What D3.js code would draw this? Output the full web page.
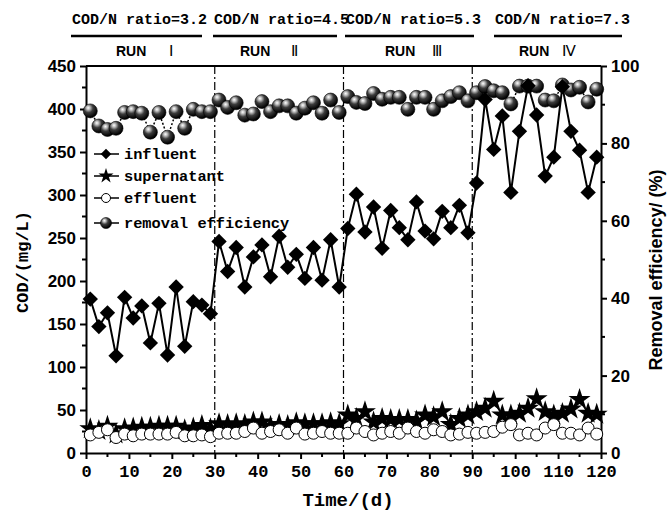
<!DOCTYPE html>
<html>
<head>
<meta charset="utf-8">
<script src="https://cdn.jsdelivr.net/npm/d3@7"></script>
<style>
  html, body { margin: 0; padding: 0; background: #fff; }
  svg { display: block; }
</style>
</head>
<body>
<svg id="chart" width="670" height="516"></svg>
<script>
// Sampling days (every other day over the 120-day operation)
const days = [1,3,5,7,9,11,13,15,17,19,21,23,25,27,29,
              31,33,35,37,39,41,43,45,47,49,51,53,55,57,59,
              61,63,65,67,69,71,73,75,77,79,81,83,85,87,89,
              91,93,95,97,99,101,103,105,107,109,111,113,115,117,119];

// COD concentrations, mg/L
const influent = [179,147,163,113,181,157,171,128,174,114,193,124,176,172,162,
                  246,211,239,193,228,242,205,252,216,231,203,239,201,248,193,
                  261,301,257,286,238,282,262,248,292,258,249,281,262,288,256,
                  314,411,353,392,303,374,427,393,322,344,426,374,352,303,344];
const supernatant = [28,26,31,22,28,29,30,30,31,31,31,27,29,32,28,
                     34,33,34,33,36,36,31,33,32,35,34,34,34,35,34,
                     44,40,48,36,40,39,39,39,37,44,42,48,33,40,44,
                     48,52,60,44,44,46,52,63,48,44,46,51,62,46,45];
const effluent = [21,24,27,18,22,20,22,22,22,22,24,20,20,21,19,
                  23,23,23,25,29,23,25,27,23,29,22,23,25,23,23,
                  23,29,25,21,23,25,23,29,25,23,27,25,21,22,24,
                  23,24,25,30,33,21,23,21,29,33,23,23,21,29,22];
// COD removal efficiency, %
const removal = [88.4,84.5,83.6,83.9,88.0,88.2,87.8,82.9,88.0,81.6,88.2,83.9,88.8,88.2,88.2,
                 91.2,89.3,90.5,87.3,87.6,90.8,88.2,89.7,89.7,87.8,89.1,90.5,87.8,91.2,88.0,
                 92.1,90.6,90.3,92.9,91.4,91.9,91.9,88.8,91.9,91.9,88.8,91.0,92.1,93.1,91.0,
                 93.1,94.7,93.6,93.1,90.2,94.8,94.8,94.8,91.2,91.0,95.1,93.8,94.5,90.7,94.0];

// Operating phases
const phaseBounds = [30, 60, 90];
const phaseRatios = ["COD/N ratio=3.2", "COD/N ratio=4.5", "COD/N ratio=5.3", "COD/N ratio=7.3"];
const phaseRuns = ["Ⅰ", "Ⅱ", "Ⅲ", "Ⅳ"];
const xTicks = [0,10,20,30,40,50,60,70,80,90,100,110,120];
const yTicks = [0,50,100,150,200,250,300,350,400,450];
const y2Ticks = [0,20,40,60,80,100];

const M = {left: 86, right: 601, top: 66, bottom: 453};
const svg = d3.select("#chart");

const x = d3.scaleLinear().domain([0,120]).range([M.left, M.right]);
const y = d3.scaleLinear().domain([0,450]).range([M.bottom, M.top]);
const y2 = d3.scaleLinear().domain([0,100]).range([M.bottom, M.top]);

const MONO = "'Liberation Mono', 'DejaVu Sans Mono', monospace";
const SANS = "'Liberation Sans', Arial, sans-serif";

// sphere shading for the efficiency markers
const defs = svg.append("defs");
const grad = defs.append("radialGradient").attr("id", "ball")
  .attr("cx", "38%").attr("cy", "32%").attr("r", "65%").attr("fx", "35%").attr("fy", "28%");
grad.append("stop").attr("offset", "0%").attr("stop-color", "#ffffff");
grad.append("stop").attr("offset", "20%").attr("stop-color", "#bdbdbd");
grad.append("stop").attr("offset", "50%").attr("stop-color", "#3c3c3c");
grad.append("stop").attr("offset", "100%").attr("stop-color", "#000000");

// phase separators
svg.append("g").selectAll("line").data(phaseBounds).join("line")
  .attr("x1", d => x(d)).attr("x2", d => x(d))
  .attr("y1", M.top).attr("y2", M.bottom)
  .attr("stroke", "#000").attr("stroke-width", 1.2)
  .attr("stroke-dasharray", "8,3,2,3");

// frame top
svg.append("line").attr("x1", M.left).attr("x2", M.right)
  .attr("y1", M.top).attr("y2", M.top).attr("stroke", "#000").attr("stroke-width", 2);

// axes
function styleAxis(g) {
  g.selectAll(".domain").attr("stroke", "#000").attr("stroke-width", 2);
  g.selectAll(".tick line").attr("stroke", "#000").attr("stroke-width", 2);
}
const gx = svg.append("g").attr("transform", `translate(0,${M.bottom})`)
  .call(d3.axisBottom(x).tickValues(xTicks).tickSize(6).tickSizeOuter(0).tickPadding(6));
styleAxis(gx);
gx.selectAll("text").attr("font-family", MONO).attr("font-weight", "bold")
  .attr("font-size", 17).attr("fill", "#000");
gx.append("g").selectAll("line").data(d3.range(5,120,10)).join("line")
  .attr("x1", d => x(d)).attr("x2", d => x(d)).attr("y1", 0).attr("y2", 4)
  .attr("stroke", "#000").attr("stroke-width", 2);

const gy = svg.append("g").attr("transform", `translate(${M.left},0)`)
  .call(d3.axisLeft(y).tickValues(yTicks).tickSize(6).tickSizeOuter(0).tickPadding(4));
styleAxis(gy);
gy.selectAll("text").attr("font-family", SANS).attr("font-weight", "bold")
  .attr("font-size", 17).attr("fill", "#000");
gy.append("g").selectAll("line").data(d3.range(25,450,50)).join("line")
  .attr("x1", 0).attr("x2", -4).attr("y1", d => y(d)).attr("y2", d => y(d))
  .attr("stroke", "#000").attr("stroke-width", 2);

const gy2 = svg.append("g").attr("transform", `translate(${M.right},0)`)
  .call(d3.axisRight(y2).tickValues(y2Ticks).tickSize(6).tickSizeOuter(0).tickPadding(4));
styleAxis(gy2);
gy2.selectAll("text").attr("font-family", SANS).attr("font-weight", "bold")
  .attr("font-size", 17).attr("fill", "#000");
gy2.append("g").selectAll("line").data(d3.range(10,100,20)).join("line")
  .attr("x1", 0).attr("x2", 4).attr("y1", d => y2(d)).attr("y2", d => y2(d))
  .attr("stroke", "#000").attr("stroke-width", 2);

// axis titles
svg.append("text").attr("x", 348).attr("y", 506).attr("text-anchor", "middle")
  .attr("font-family", MONO).attr("font-weight", "bold").attr("font-size", 19)
  .text("Time/(d)");
svg.append("text").attr("transform", "translate(28,262) rotate(-90)")
  .attr("text-anchor", "middle").attr("font-family", MONO).attr("font-weight", "bold")
  .attr("font-size", 17).text("COD/(mg/L)");
svg.append("text").attr("transform", "translate(662,270) rotate(-90)")
  .attr("text-anchor", "middle").attr("font-family", SANS).attr("font-weight", "bold")
  .attr("font-size", 18).text("Removal efficiency/ (%)");

// phase header
const hdr = svg.append("g");
const ulines = [[71,202],[213,337],[345,474],[494,622]];
const runX = [[116,169],[240,291],[385,432],[519,562]];
phaseRatios.forEach((txt, i) => {
  hdr.append("text").attr("x", ulines[i][0] + 1).attr("y", 24)
    .attr("font-family", MONO).attr("font-weight", "bold").attr("font-size", 15)
    .text(txt);
  hdr.append("line").attr("x1", ulines[i][0]).attr("x2", ulines[i][1])
    .attr("y1", 36).attr("y2", 36).attr("stroke", "#000").attr("stroke-width", 2.5);
  hdr.append("text").attr("x", runX[i][0]).attr("y", 56)
    .attr("font-family", SANS).attr("font-weight", "bold").attr("font-size", 14)
    .text("RUN");
  hdr.append("text").attr("x", runX[i][1]).attr("y", 56)
    .attr("font-family", SANS).attr("font-size", 15)
    .text(phaseRuns[i]);
});

const pts = (vals, sc) => days.map((d, i) => [x(d), sc(vals[i])]);
const line = d3.line();

// removal efficiency (right axis)
svg.append("path").attr("d", line(pts(removal, y2))).attr("fill", "none")
  .attr("stroke", "#000").attr("stroke-width", 1.5).attr("stroke-dasharray", "2,2");
svg.append("g").selectAll("circle").data(pts(removal, y2)).join("circle")
  .attr("cx", d => d[0]).attr("cy", d => d[1]).attr("r", 7)
  .attr("fill", "url(#ball)").attr("stroke", "#000").attr("stroke-width", 0.6);

// influent
const diamond = d3.symbol().type(d3.symbolSquare).size(118);
svg.append("path").attr("d", line(pts(influent, y))).attr("fill", "none")
  .attr("stroke", "#000").attr("stroke-width", 2);
svg.append("g").selectAll("path").data(pts(influent, y)).join("path")
  .attr("d", diamond).attr("transform", d => `translate(${d[0]},${d[1]}) rotate(45)`)
  .attr("fill", "#000");

// supernatant
const star = d3.symbol().type(d3.symbolStar).size(150);
svg.append("path").attr("d", line(pts(supernatant, y))).attr("fill", "none")
  .attr("stroke", "#000").attr("stroke-width", 1.5);
svg.append("g").selectAll("path").data(pts(supernatant, y)).join("path")
  .attr("d", star).attr("transform", d => `translate(${d[0]},${d[1]})`)
  .attr("fill", "#000");

// effluent
svg.append("path").attr("d", line(pts(effluent, y))).attr("fill", "none")
  .attr("stroke", "#000").attr("stroke-width", 1);
svg.append("g").selectAll("circle").data(pts(effluent, y)).join("circle")
  .attr("cx", d => d[0]).attr("cy", d => d[1]).attr("r", 6)
  .attr("fill", "#fff").attr("stroke", "#000").attr("stroke-width", 1);

// legend
const legend = [
  {label: "influent", kind: "diamond", y: 154},
  {label: "supernatant", kind: "star", y: 176},
  {label: "effluent", kind: "open", y: 198},
  {label: "removal efficiency", kind: "ball", y: 223}
];
const lg = svg.append("g");
legend.forEach(l => {
  lg.append("line").attr("x1", 94).attr("x2", 119).attr("y1", l.y).attr("y2", l.y)
    .attr("stroke", "#000").attr("stroke-width", 1.5);
  if (l.kind === "diamond") {
    lg.append("path").attr("d", d3.symbol().type(d3.symbolSquare).size(56)())
      .attr("transform", `translate(106,${l.y}) rotate(45)`).attr("fill", "#000");
  } else if (l.kind === "star") {
    lg.append("path").attr("d", d3.symbol().type(d3.symbolStar).size(70)())
      .attr("transform", `translate(106,${l.y})`).attr("fill", "#000");
  } else if (l.kind === "open") {
    lg.append("circle").attr("cx", 106).attr("cy", l.y).attr("r", 4.5)
      .attr("fill", "#fff").attr("stroke", "#000");
  } else {
    lg.append("circle").attr("cx", 106).attr("cy", l.y).attr("r", 5.5)
      .attr("fill", "url(#ball)").attr("stroke", "#000").attr("stroke-width", 0.6);
  }
  lg.append("text").attr("x", 124).attr("y", l.y + 5)
    .attr("font-family", MONO).attr("font-weight", "bold").attr("font-size", 15.3)
    .text(l.label);
});
</script>
</body>
</html>
